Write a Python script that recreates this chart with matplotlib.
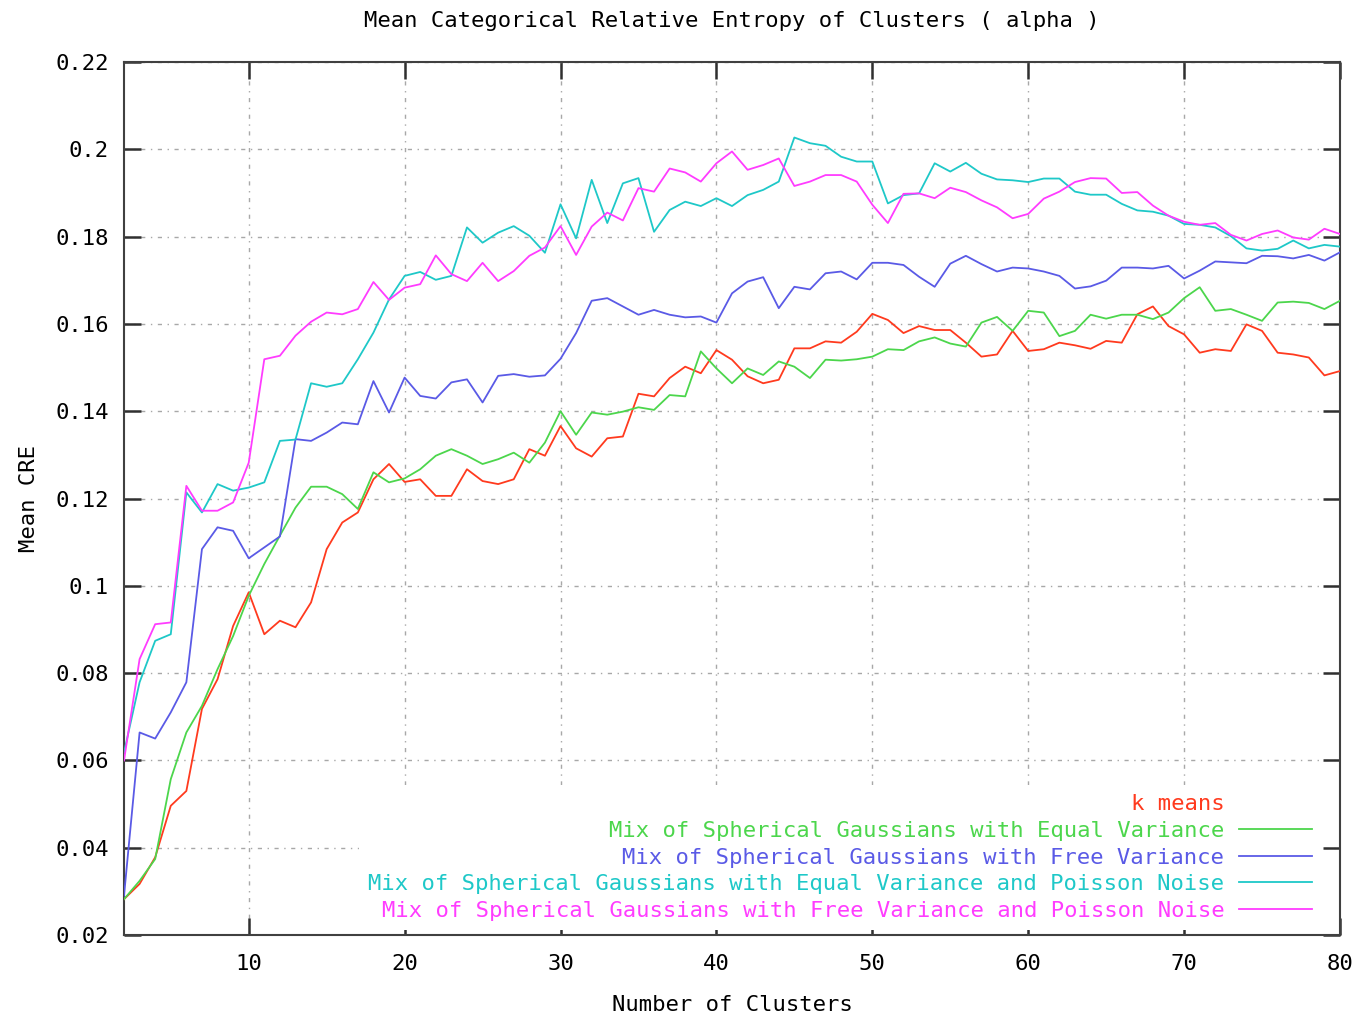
import matplotlib
matplotlib.use("Agg")
import matplotlib.pyplot as plt
from matplotlib.lines import Line2D

# numero de clusters (eje x)
clusters = list(range(2, 81))

kmeans = [0.0282, 0.0317, 0.0378, 0.0496, 0.0530, 0.0718, 0.0786, 0.0908, 0.0985, 0.0889,
          0.0920, 0.0905, 0.0962, 0.1084, 0.1145, 0.1168, 0.1244, 0.1279, 0.1238, 0.1244,
          0.1206, 0.1206, 0.1267, 0.1240, 0.1233, 0.1244, 0.1313, 0.1298, 0.1366, 0.1315,
          0.1296, 0.1338, 0.1342, 0.1440, 0.1434, 0.1476, 0.1502, 0.1487, 0.1540, 0.1518,
          0.1480, 0.1464, 0.1472, 0.1544, 0.1544, 0.1560, 0.1557, 0.1582, 0.1623, 0.1609,
          0.1579, 0.1595, 0.1586, 0.1586, 0.1557, 0.1525, 0.1530, 0.1584, 0.1538, 0.1542,
          0.1557, 0.1551, 0.1543, 0.1561, 0.1557, 0.1622, 0.1640, 0.1595, 0.1576, 0.1534,
          0.1542, 0.1538, 0.1599, 0.1584, 0.1534, 0.1530, 0.1523, 0.1482, 0.1492]

eq_var = [0.0282, 0.0324, 0.0374, 0.0557, 0.0664, 0.0725, 0.0809, 0.0885, 0.0977, 0.1050,
          0.1115, 0.1179, 0.1227, 0.1227, 0.1210, 0.1176, 0.1260, 0.1237, 0.1246, 0.1267,
          0.1298, 0.1313, 0.1298, 0.1279, 0.1290, 0.1305, 0.1282, 0.1328, 0.1400, 0.1346,
          0.1397, 0.1392, 0.1399, 0.1409, 0.1403, 0.1437, 0.1434, 0.1537, 0.1498, 0.1464,
          0.1498, 0.1483, 0.1514, 0.1502, 0.1476, 0.1518, 0.1516, 0.1519, 0.1525, 0.1542,
          0.1540, 0.1560, 0.1569, 0.1555, 0.1548, 0.1603, 0.1616, 0.1584, 0.1630, 0.1626,
          0.1572, 0.1584, 0.1621, 0.1612, 0.1621, 0.1621, 0.1611, 0.1626, 0.1659, 0.1684,
          0.1630, 0.1634, 0.1621, 0.1607, 0.1649, 0.1651, 0.1648, 0.1634, 0.1653]

free_var = [0.0290, 0.0664, 0.0650, 0.0710, 0.0779, 0.1084, 0.1134, 0.1126, 0.1063, 0.1088,
            0.1113, 0.1336, 0.1332, 0.1351, 0.1374, 0.1370, 0.1469, 0.1397, 0.1477, 0.1435,
            0.1429, 0.1466, 0.1473, 0.1420, 0.1481, 0.1485, 0.1479, 0.1482, 0.1520, 0.1579,
            0.1653, 0.1659, 0.1640, 0.1621, 0.1632, 0.1621, 0.1615, 0.1617, 0.1603, 0.1670,
            0.1697, 0.1707, 0.1636, 0.1685, 0.1679, 0.1716, 0.1720, 0.1702, 0.1740, 0.1740,
            0.1735, 0.1708, 0.1685, 0.1738, 0.1756, 0.1737, 0.1720, 0.1729, 0.1727, 0.1720,
            0.1710, 0.1681, 0.1686, 0.1699, 0.1729, 0.1729, 0.1727, 0.1733, 0.1704, 0.1722,
            0.1743, 0.1741, 0.1739, 0.1756, 0.1755, 0.1750, 0.1758, 0.1745, 0.1764]

eq_var_poisson = [0.0618, 0.0779, 0.0874, 0.0889, 0.1214, 0.1168, 0.1233, 0.1218, 0.1225, 0.1237,
                  0.1332, 0.1335, 0.1464, 0.1456, 0.1464, 0.1519, 0.1580, 0.1656, 0.1710, 0.1719,
                  0.1701, 0.1710, 0.1821, 0.1786, 0.1809, 0.1824, 0.1802, 0.1763, 0.1874, 0.1796,
                  0.1930, 0.1831, 0.1922, 0.1934, 0.1811, 0.1861, 0.1880, 0.1870, 0.1888, 0.1870,
                  0.1895, 0.1907, 0.1926, 0.2027, 0.2014, 0.2008, 0.1983, 0.1972, 0.1972, 0.1876,
                  0.1895, 0.1899, 0.1968, 0.1949, 0.1969, 0.1944, 0.1931, 0.1929, 0.1925, 0.1933,
                  0.1933, 0.1903, 0.1896, 0.1896, 0.1875, 0.1860, 0.1857, 0.1848, 0.1829, 0.1827,
                  0.1821, 0.1801, 0.1773, 0.1768, 0.1772, 0.1791, 0.1773, 0.1781, 0.1777]

free_var_poisson = [0.0600, 0.0832, 0.0912, 0.0916, 0.1229, 0.1172, 0.1172, 0.1191, 0.1282, 0.1519,
                    0.1527, 0.1573, 0.1605, 0.1626, 0.1622, 0.1634, 0.1696, 0.1655, 0.1683, 0.1691,
                    0.1757, 0.1714, 0.1698, 0.1740, 0.1698, 0.1721, 0.1756, 0.1775, 0.1824, 0.1758,
                    0.1823, 0.1855, 0.1837, 0.1911, 0.1903, 0.1956, 0.1947, 0.1926, 0.1968, 0.1995,
                    0.1953, 0.1964, 0.1979, 0.1916, 0.1926, 0.1941, 0.1941, 0.1926, 0.1873, 0.1831,
                    0.1898, 0.1899, 0.1888, 0.1912, 0.1902, 0.1883, 0.1867, 0.1842, 0.1852, 0.1887,
                    0.1903, 0.1925, 0.1934, 0.1933, 0.1900, 0.1902, 0.1871, 0.1848, 0.1834, 0.1827,
                    0.1831, 0.1804, 0.1791, 0.1806, 0.1814, 0.1798, 0.1793, 0.1818, 0.1806]

etiquetas = ["k means",
             "Mix of Spherical Gaussians with Equal Variance",
             "Mix of Spherical Gaussians with Free Variance",
             "Mix of Spherical Gaussians with Equal Variance and Poisson Noise",
             "Mix of Spherical Gaussians with Free Variance and Poisson Noise"]
colores = ["#ff3a1e", "#4cd64c", "#5a5ae6", "#1ec8c8", "#ff3cff"]

yticks = [0.02, 0.04, 0.06, 0.08, 0.10, 0.12, 0.14, 0.16, 0.18, 0.20, 0.22]
ytick_labels = ["0.02", "0.04", "0.06", "0.08", "0.1", "0.12", "0.14", "0.16", "0.18", "0.2", "0.22"]
xticks = [10, 20, 30, 40, 50, 60, 70, 80]

plt.rcParams["font.family"] = ["DejaVu Sans Mono"]
fs = 16

fig = plt.figure(figsize=(13.57, 10.17), dpi=100)
ax = fig.add_axes([124 / 1357, 1 - 935 / 1017, (1340 - 124) / 1357, (935 - 62) / 1017])

series = [kmeans, eq_var, free_var, eq_var_poisson, free_var_poisson]
for datos, col in zip(series, colores):
    ax.plot(clusters, datos, color=col, linewidth=1.3, zorder=3)

ax.set_xlim(2, 80)
ax.set_ylim(0.02, 0.22)
ax.set_xticks(xticks)
ax.set_yticks(yticks)
ax.set_yticklabels(ytick_labels)
ax.tick_params(direction="in", length=12, width=1.8, color="#303030",
               top=True, right=True, labelsize=fs, pad=11)
ax.tick_params(axis="x", pad=14)
ax.grid(True, color="#a8a8a8", linewidth=1.0, linestyle=(0, (3, 4, 1, 4)))
for s in ax.spines.values():
    s.set_color("#404040")
    s.set_linewidth(1.5)

ax.set_title("Mean Categorical Relative Entropy of Clusters ( alpha )", fontsize=fs, pad=25)
ax.set_xlabel("Number of Clusters", fontsize=fs, labelpad=15)
ax.set_ylabel("Mean CRE", fontsize=fs, labelpad=12)

handles = [Line2D([], [], linestyle="none")]
handles += [Line2D([], [], color=c, linewidth=1.3) for c in colores[1:]]
leg = ax.legend(handles, etiquetas, loc="lower right", bbox_to_anchor=(0.9844, 0.006),
                markerfirst=False, fontsize=fs, labelcolor=colores,
                handlelength=3.3, handletextpad=0.65, labelspacing=0.3,
                borderaxespad=0.0, borderpad=0.4,
                frameon=True, fancybox=False, edgecolor="none", facecolor="white",
                framealpha=1.0)
leg.set_zorder(2)

fig.savefig("out.png", dpi=100)
